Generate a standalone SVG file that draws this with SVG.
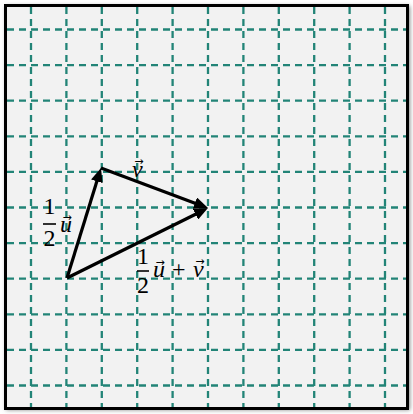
<svg xmlns="http://www.w3.org/2000/svg" width="413" height="414" viewBox="0 0 413 414">
<defs>
<style>
.grid line{stroke:#228477;stroke-width:2.3;stroke-dasharray:7 5;}
.vec{stroke:#000;stroke-width:3.2;fill:none;}
.t{font-family:"Liberation Serif","DejaVu Serif",serif;font-size:24px;fill:#000;}
.i{font-style:italic;font-size:24px;}
.ar{font-family:"DejaVu Sans",sans-serif;font-size:11px;font-style:normal;}
.bar{stroke:#000;stroke-width:1.6;}
</style>
<marker id="ah" viewBox="0 0 14 12" refX="8" refY="6" markerWidth="14" markerHeight="12" markerUnits="userSpaceOnUse" orient="auto">
<path d="M0,0 L14,6 L0,12 z" fill="#000"/>
</marker>
<filter id="sh" x="-5%" y="-5%" width="110%" height="110%">
<feGaussianBlur stdDeviation="2"/>
</filter>
</defs>
<rect x="0" y="0" width="413" height="414" fill="#fff"/>
<rect x="6" y="6" width="404" height="404" fill="#888" filter="url(#sh)"/>
<rect x="5.5" y="5.5" width="402" height="403" fill="#f2f2f2" stroke="#000" stroke-width="3"/>
<g class="grid">
<line x1="31" y1="7" x2="31" y2="407"/>
<line x1="66.4" y1="7" x2="66.4" y2="407"/>
<line x1="101.8" y1="7" x2="101.8" y2="407"/>
<line x1="137.2" y1="7" x2="137.2" y2="407"/>
<line x1="172.6" y1="7" x2="172.6" y2="407"/>
<line x1="208" y1="7" x2="208" y2="407"/>
<line x1="243.4" y1="7" x2="243.4" y2="407"/>
<line x1="278.8" y1="7" x2="278.8" y2="407"/>
<line x1="314.2" y1="7" x2="314.2" y2="407"/>
<line x1="349.6" y1="7" x2="349.6" y2="407"/>
<line x1="385" y1="7" x2="385" y2="407"/>
<line x1="7" y1="29.5" x2="406" y2="29.5"/>
<line x1="7" y1="65.1" x2="406" y2="65.1"/>
<line x1="7" y1="100.7" x2="406" y2="100.7"/>
<line x1="7" y1="136.3" x2="406" y2="136.3"/>
<line x1="7" y1="171.9" x2="406" y2="171.9"/>
<line x1="7" y1="207.5" x2="406" y2="207.5"/>
<line x1="7" y1="243.1" x2="406" y2="243.1"/>
<line x1="7" y1="278.7" x2="406" y2="278.7"/>
<line x1="7" y1="314.3" x2="406" y2="314.3"/>
<line x1="7" y1="349.9" x2="406" y2="349.9"/>
<line x1="7" y1="385.5" x2="406" y2="385.5"/>
</g>
<g id="connectors">
<line class="vec" x1="67" y1="278" x2="99.2" y2="173.7" marker-end="url(#ah)"/>
<line class="vec" x1="101" y1="168" x2="202.4" y2="205.9" marker-end="url(#ah)"/>
<line class="vec" x1="67" y1="278" x2="202.6" y2="210.7" marker-end="url(#ah)"/>
</g>
<g id="label-half-u">
<text class="t" x="49.5" y="214" text-anchor="middle">1</text>
<line class="bar" x1="43" y1="224" x2="56" y2="224"/>
<text class="t" x="49.5" y="246" text-anchor="middle">2</text>
<text class="t i" x="60" y="232">u<tspan class="ar" dx="-9.5" dy="-11">→</tspan></text>
</g>
<g id="label-v">
<text class="t i" x="132" y="177">v<tspan class="ar" dx="-8.5" dy="-12">→</tspan></text>
</g>
<g id="label-sum">
<text class="t" x="143" y="264" text-anchor="middle">1</text>
<line class="bar" x1="137" y1="271" x2="149" y2="271"/>
<text class="t" x="143" y="293" text-anchor="middle">2</text>
<text class="t i" x="153" y="277">u<tspan class="ar" dx="-9.5" dy="-11">→</tspan></text>
<text class="t" x="172" y="277">+</text>
<text class="t i" x="193" y="277">v<tspan class="ar" dx="-8.5" dy="-12">→</tspan></text>
</g>
</svg>
